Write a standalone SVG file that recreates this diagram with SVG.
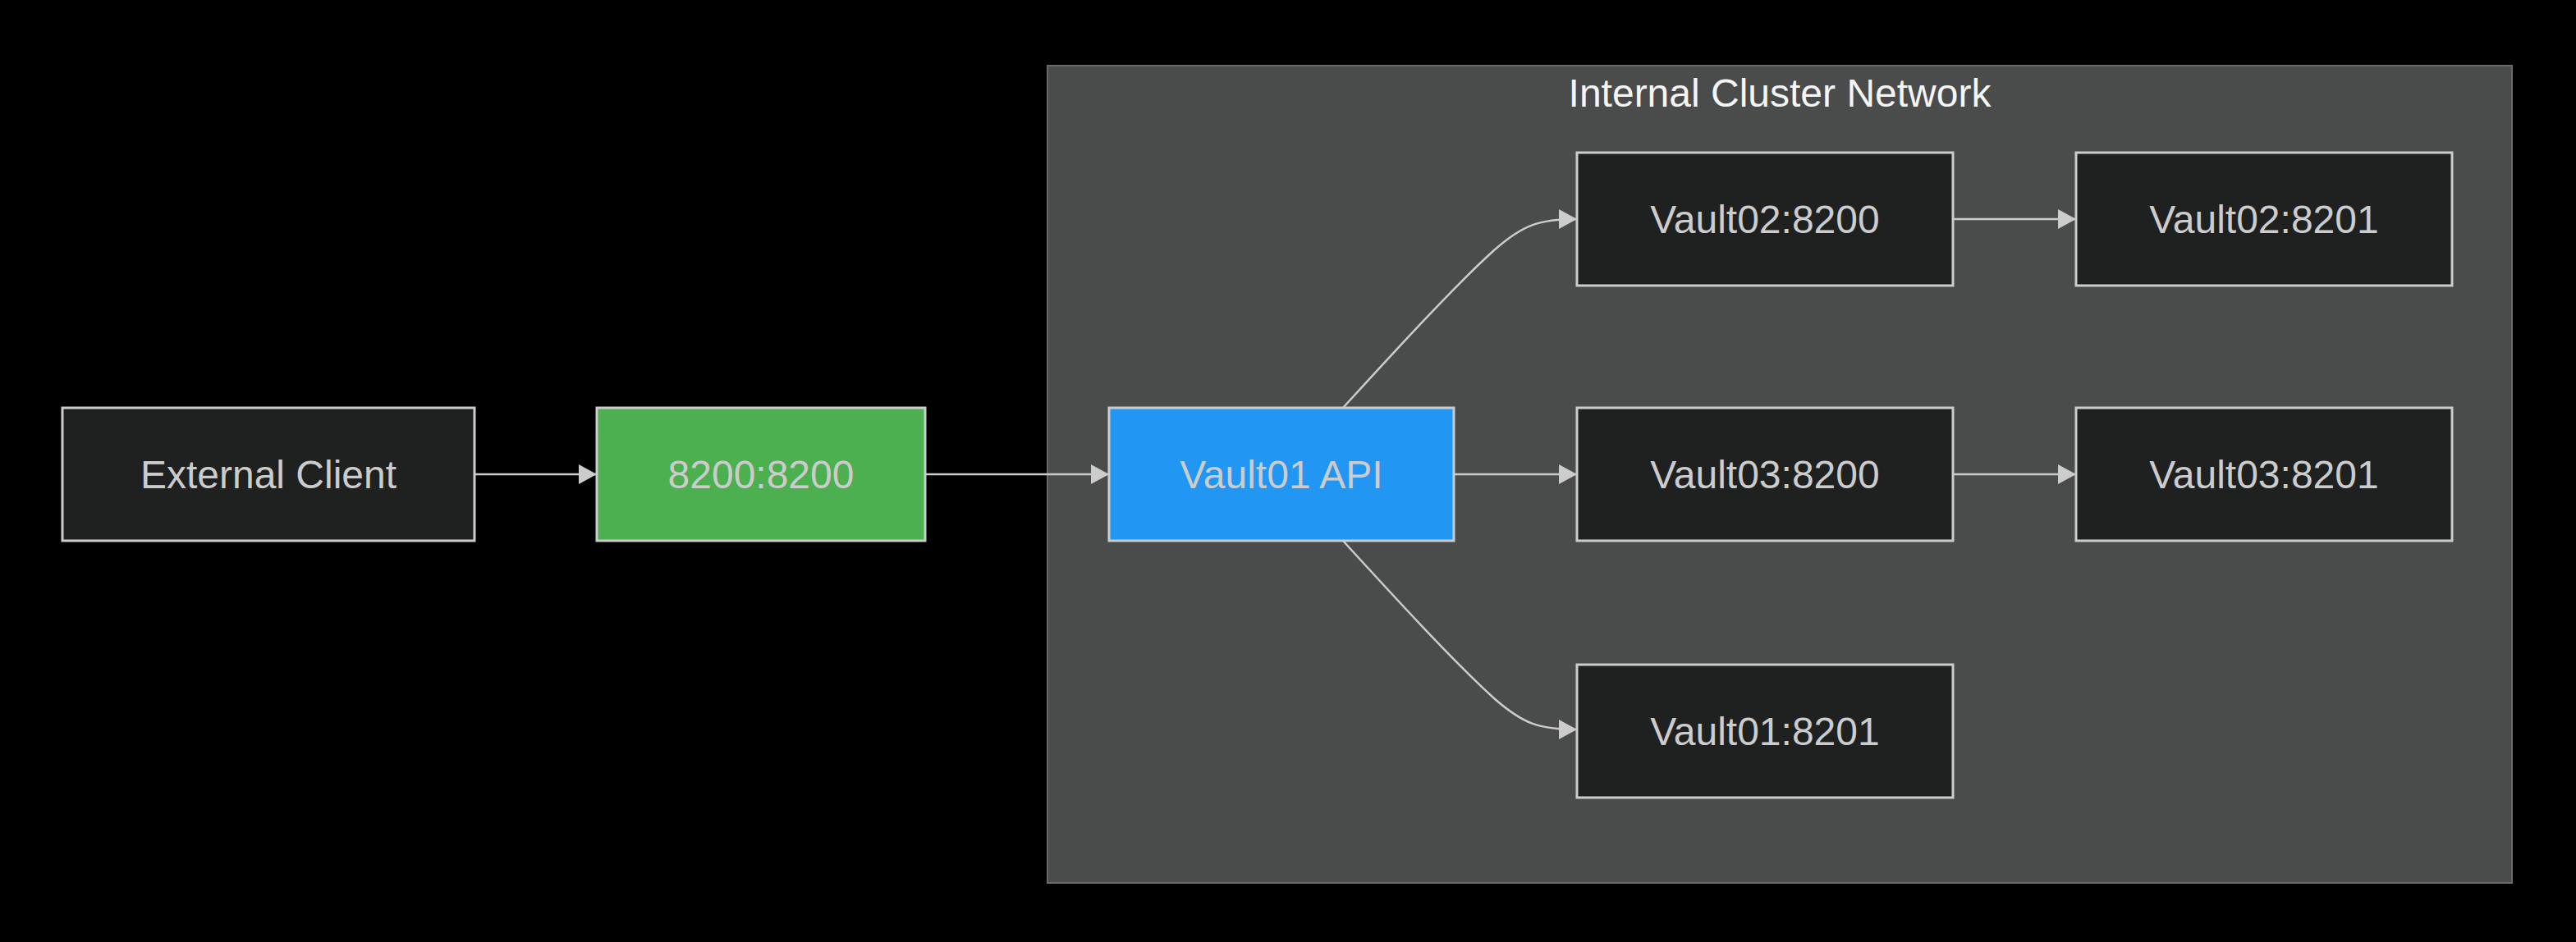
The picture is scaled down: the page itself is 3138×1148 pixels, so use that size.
<svg xmlns="http://www.w3.org/2000/svg" width="3138" height="1148" viewBox="0 0 3138 1148">
<style>
.node rect{fill:#1f2020;stroke:#cccccc;stroke-width:3}
.node text{font-family:"Liberation Sans",Arial,sans-serif;font-size:48px;fill:#cccccc;text-anchor:middle;dominant-baseline:central}
.edge{fill:none;stroke:#cccccc;stroke-width:2.5}
.title{font-family:"Liberation Sans",Arial,sans-serif;font-size:48px;fill:#f5f5f5;text-anchor:middle}
</style>
<defs>
<marker id="arr" markerWidth="22" markerHeight="24" refX="22" refY="12" orient="auto" markerUnits="userSpaceOnUse">
<path d="M0,0 L22,12 L0,24 Z" fill="#cccccc"/>
</marker>
</defs>
<rect width="3138" height="1148" fill="#000000"/>
<g id="cluster">
<rect x="1276" y="80" width="1784" height="996" fill="#4a4b4b" stroke="#6a6a6a" stroke-width="2"/>
<text class="title" x="2168" y="130">Internal Cluster Network</text>
</g>
<g id="connectors">
<path class="edge" d="M578,578 L727,578" marker-end="url(#arr)"/>
<path class="edge" d="M1127,578 L1351,578" marker-end="url(#arr)"/>
<path class="edge" d="M1771,578 L1921,578" marker-end="url(#arr)"/>
<path class="edge" d="M2379,578 L2529,578" marker-end="url(#arr)"/>
<path class="edge" d="M2379,267 L2529,267" marker-end="url(#arr)"/>
<path class="edge" d="M1636,497 C1690,438 1770,350 1820,305 C1855,274 1875,267 1921,267" marker-end="url(#arr)"/>
<path class="edge" d="M1636,659 C1690,718 1770,806 1820,851 C1855,882 1875,889 1921,889" marker-end="url(#arr)"/>
</g>
<g id="external-client" class="node">
<rect x="76" y="497" width="502" height="162"/>
<text x="327" y="578">External Client</text>
</g>
<g id="port-map" class="node">
<rect x="727" y="497" width="400" height="162" style="fill:#4caf50"/>
<text x="927" y="578">8200:8200</text>
</g>
<g id="vault01-api" class="node">
<rect x="1351" y="497" width="420" height="162" style="fill:#2196f3"/>
<text x="1561" y="578">Vault01 API</text>
</g>
<g id="vault02-8200" class="node">
<rect x="1921" y="186" width="458" height="162"/>
<text x="2150" y="267">Vault02:8200</text>
</g>
<g id="vault02-8201" class="node">
<rect x="2529" y="186" width="458" height="162"/>
<text x="2758" y="267">Vault02:8201</text>
</g>
<g id="vault03-8200" class="node">
<rect x="1921" y="497" width="458" height="162"/>
<text x="2150" y="578">Vault03:8200</text>
</g>
<g id="vault03-8201" class="node">
<rect x="2529" y="497" width="458" height="162"/>
<text x="2758" y="578">Vault03:8201</text>
</g>
<g id="vault01-8201" class="node">
<rect x="1921" y="810" width="458" height="162"/>
<text x="2150" y="891">Vault01:8201</text>
</g>
</svg>
